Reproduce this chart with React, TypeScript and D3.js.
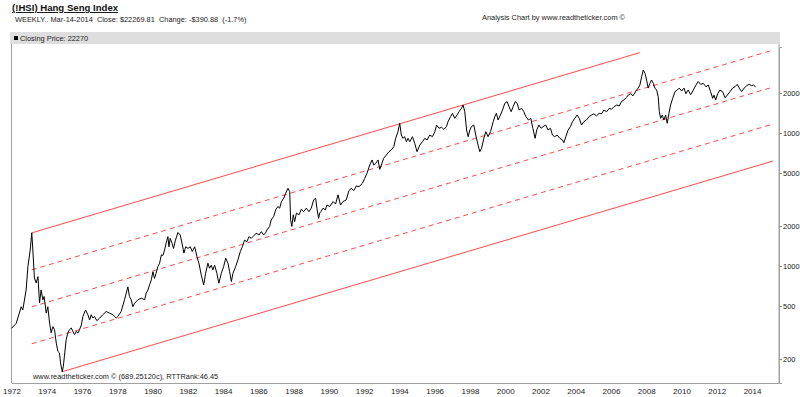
import { useEffect, useRef } from "react";
import * as d3 from "d3";

// weekly closes: [decimal year, close]
const closePoints: [number, number][] = [
  [1972.0, 340], [1972.27, 371], [1972.55, 494], [1972.64, 467], [1972.83, 660], [1972.93, 988],
  [1973.06, 1318], [1973.15, 1775], [1973.21, 1318], [1973.3, 812], [1973.4, 747], [1973.5, 832],
  [1973.59, 529], [1973.68, 660], [1973.78, 557], [1973.85, 590], [1973.97, 442], [1974.06, 494],
  [1974.16, 371], [1974.25, 315], [1974.35, 350], [1974.44, 332], [1974.54, 263], [1974.63, 228],
  [1974.72, 222], [1974.78, 187], [1974.88, 160], [1974.94, 176], [1975.0, 210], [1975.1, 279],
  [1975.19, 313], [1975.29, 332], [1975.39, 342], [1975.48, 322], [1975.58, 305], [1975.67, 322],
  [1975.77, 313], [1975.86, 332], [1975.96, 360], [1976.05, 417], [1976.2, 467], [1976.33, 430],
  [1976.43, 393], [1976.52, 430], [1976.62, 406], [1976.71, 417], [1976.84, 388], [1977.0, 406],
  [1977.18, 430], [1977.37, 455], [1977.56, 442], [1977.75, 430], [1977.94, 406], [1978.03, 417],
  [1978.22, 455], [1978.41, 557], [1978.6, 697], [1978.69, 590], [1978.79, 557], [1978.88, 494],
  [1978.98, 525], [1979.17, 557], [1979.36, 573], [1979.55, 557], [1979.64, 625], [1979.74, 660],
  [1979.83, 721], [1979.93, 787], [1980.02, 906], [1980.11, 807], [1980.2, 881], [1980.3, 988],
  [1980.4, 1050], [1980.5, 1213], [1980.59, 1200], [1980.68, 1318], [1980.78, 1500], [1980.87, 1663],
  [1980.93, 1395], [1981.0, 1613], [1981.11, 1477], [1981.19, 1356], [1981.3, 1566], [1981.44, 1786],
  [1981.57, 1712], [1981.69, 1440], [1981.78, 1250], [1981.88, 1395], [1982.01, 1356], [1982.14, 1395],
  [1982.25, 1286], [1982.39, 1395], [1982.52, 1174], [1982.63, 1050], [1982.76, 858], [1982.9, 721],
  [1983.01, 881], [1983.14, 1050], [1983.23, 962], [1983.33, 1014], [1983.42, 935], [1983.52, 1014],
  [1983.65, 881], [1983.76, 742], [1983.9, 881], [1984.03, 988], [1984.15, 1143], [1984.28, 1050],
  [1984.37, 906], [1984.47, 764], [1984.56, 881], [1984.71, 988], [1984.84, 1110], [1984.98, 1286],
  [1985.09, 1395], [1985.22, 1566], [1985.35, 1522], [1985.47, 1663], [1985.6, 1613], [1985.73, 1682],
  [1985.88, 1766], [1986.04, 1712], [1986.17, 1813], [1986.3, 1712], [1986.42, 1786], [1986.49, 1868],
  [1986.64, 1983], [1986.73, 2222], [1986.87, 2357], [1986.98, 2641], [1987.11, 2801], [1987.21, 2721],
  [1987.31, 3051], [1987.44, 3230], [1987.55, 3524], [1987.68, 3839], [1987.78, 3620], [1987.83, 2222],
  [1987.9, 1983], [1987.98, 2427], [1988.06, 2158], [1988.16, 2500], [1988.31, 2427], [1988.44, 2672],
  [1988.57, 2562], [1988.72, 2721], [1988.87, 2562], [1989.0, 2721], [1989.14, 3145], [1989.25, 3230],
  [1989.32, 2721], [1989.42, 2282], [1989.48, 2500], [1989.55, 2562], [1989.67, 2721], [1989.8, 2641],
  [1989.89, 2873], [1990.05, 2801], [1990.24, 3051], [1990.38, 2923], [1990.52, 3428], [1990.66, 2873],
  [1990.8, 3051], [1990.99, 3145], [1991.14, 3691], [1991.27, 3839], [1991.41, 3691], [1991.56, 4000],
  [1991.71, 3952], [1991.9, 4186], [1992.03, 4556], [1992.16, 4974], [1992.32, 5747], [1992.45, 6271],
  [1992.55, 5747], [1992.66, 5917], [1992.79, 6271], [1992.89, 5330], [1992.98, 5747], [1993.11, 6455],
  [1993.26, 6833], [1993.41, 7237], [1993.54, 7450], [1993.68, 7893], [1993.79, 9124], [1993.92, 10235],
  [1994.02, 11827], [1994.11, 9660], [1994.2, 9124], [1994.3, 9380], [1994.4, 8603], [1994.49, 9124],
  [1994.59, 8603], [1994.74, 9380], [1994.87, 8364], [1995.0, 7237], [1995.16, 8124], [1995.31, 8603],
  [1995.44, 9124], [1995.57, 8858], [1995.72, 9660], [1995.87, 9380], [1996.01, 10235], [1996.11, 11480],
  [1996.25, 10850], [1996.39, 11040], [1996.52, 10660], [1996.67, 11170], [1996.76, 12170], [1996.9, 13270],
  [1997.01, 14060], [1997.14, 12900], [1997.27, 13650], [1997.38, 14460], [1997.52, 15320], [1997.61, 16230],
  [1997.71, 14460], [1997.81, 10540], [1997.9, 9380], [1998.0, 10540], [1998.09, 11170], [1998.22, 11480],
  [1998.33, 9660], [1998.46, 8124], [1998.56, 7237], [1998.66, 7671], [1998.79, 9124], [1998.9, 10235],
  [1999.03, 9400], [1999.17, 10235], [1999.32, 12170], [1999.41, 13270], [1999.5, 14060], [1999.6, 12520],
  [1999.73, 13650], [1999.85, 14900], [1999.98, 16730], [2000.11, 17230], [2000.22, 15760], [2000.34, 14460],
  [2000.45, 15760], [2000.57, 17230], [2000.68, 16730], [2000.79, 14900], [2000.93, 15320], [2001.06, 14460],
  [2001.17, 13270], [2001.32, 12520], [2001.45, 12900], [2001.57, 10850], [2001.7, 9124], [2001.79, 10540],
  [2001.91, 11480], [2002.04, 10850], [2002.15, 11170], [2002.3, 11480], [2002.43, 10540], [2002.57, 10850],
  [2002.68, 9660], [2002.81, 9380], [2002.94, 9660], [2003.1, 9124], [2003.25, 8858], [2003.33, 8452],
  [2003.44, 9380], [2003.57, 10540], [2003.7, 11170], [2003.82, 12170], [2003.95, 12900], [2004.08, 13650],
  [2004.2, 12900], [2004.33, 11480], [2004.46, 12170], [2004.61, 12520], [2004.76, 13270], [2004.89, 13650],
  [2005.03, 13920], [2005.18, 13450], [2005.33, 14060], [2005.46, 13920], [2005.6, 14900], [2005.75, 14460],
  [2005.9, 15320], [2006.03, 15090], [2006.17, 15760], [2006.32, 16230], [2006.47, 15990], [2006.6, 17230],
  [2006.73, 17740], [2006.88, 18500], [2006.98, 19300], [2007.12, 19740], [2007.25, 19050], [2007.45, 21030],
  [2007.54, 21760], [2007.64, 22950], [2007.74, 26480], [2007.83, 29780], [2007.93, 28060], [2008.02, 25030],
  [2008.11, 21760], [2008.21, 23640], [2008.3, 25030], [2008.4, 23640], [2008.49, 21760], [2008.59, 21030],
  [2008.68, 18760], [2008.74, 14460], [2008.82, 12900], [2008.91, 13650], [2009.0, 12520], [2009.1, 13650],
  [2009.19, 11830], [2009.29, 14060], [2009.38, 16230], [2009.5, 18220], [2009.63, 20460], [2009.76, 21030],
  [2009.87, 21760], [2010.01, 20700], [2010.14, 21760], [2010.25, 19740], [2010.38, 21030], [2010.52, 19410],
  [2010.67, 21030], [2010.82, 22950], [2010.95, 24350], [2011.09, 23220], [2011.23, 23640], [2011.39, 22250],
  [2011.52, 22950], [2011.65, 20460], [2011.77, 18220], [2011.84, 19280], [2011.94, 17740], [2012.05, 19740],
  [2012.18, 21030], [2012.33, 20460], [2012.47, 18420], [2012.6, 19280], [2012.75, 20460], [2012.9, 21760],
  [2013.03, 22250], [2013.16, 23220], [2013.28, 21760], [2013.41, 20460], [2013.55, 21760], [2013.7, 22690],
  [2013.84, 23220], [2013.98, 22690], [2014.07, 22950], [2014.2, 22270],
];

// regression channel: anchored on the 1973 top, five parallel lines in log space
const channelAnchor: [number, number] = [1973.15, 1775];
const channelSlope = 0.0393; // decades per year
const channelStep = 0.278; // decades between lines
const channelLines = [
  { k: 0, from: 1973.15, to: 2007.64, dashed: false },
  { k: 1, from: 1973.15, to: 2015.2, dashed: true },
  { k: 2, from: 1973.15, to: 2015.2, dashed: true },
  { k: 3, from: 1973.15, to: 2015.2, dashed: true },
  { k: 4, from: 1974.89, to: 2015.2, dashed: false },
];

const yearTicks = d3.range(1972, 2015, 2);
const priceTicks = [200, 500, 1000, 2000, 5000, 10000, 20000];

const width = 800;
const height = 397;
const plotLeft = 11.5;
const plotRight = 779;
const plotTop = 47;
const plotBottom = 383;
const font = "'Liberation Sans', Arial, sans-serif";

export default function App() {
  const xRef = useRef<SVGGElement>(null);
  const yRef = useRef<SVGGElement>(null);

  const x = d3.scaleLinear().domain([1972, 2015.53]).range([plotLeft, plotRight]);
  const y = d3.scaleLog().domain([131.9, 44330]).range([plotBottom, plotTop]);

  const line = d3
    .line<[number, number]>()
    .x((d) => x(d[0]))
    .y((d) => y(d[1]));

  const channelValue = (t: number, k: number) =>
    Math.pow(10, Math.log10(channelAnchor[1]) + channelSlope * (t - channelAnchor[0]) - k * channelStep);

  useEffect(() => {
    const gx = d3.select(xRef.current);
    gx.selectAll("*").remove();
    gx.call(d3.axisBottom(x).tickValues(yearTicks).tickFormat(d3.format("d")).tickSize(0).tickPadding(5))
      .call((g) => g.select(".domain").attr("stroke", "#a0a0a0"))
      .call((g) =>
        g.selectAll(".tick text").attr("fill", "#222").style("font-size", "8px").style("font-family", font),
      );

    const gy = d3.select(yRef.current);
    gy.selectAll("*").remove();
    gy.call(d3.axisRight(y).tickValues(priceTicks).tickFormat(d3.format("d")).tickSize(3).tickPadding(1))
      .call((g) => g.select(".domain").attr("stroke", "#a0a0a0"))
      .call((g) => g.selectAll(".tick line").attr("stroke", "#888"))
      .call((g) =>
        g.selectAll(".tick text").attr("fill", "#222").style("font-size", "7.5px").style("font-family", font),
      );
  }, []);

  return (
    <svg
      width={width}
      height={height}
      style={{ position: "absolute", left: 0, top: 0, background: "#fff" }}
      fontFamily={font}
    >
      <text x={12} y={11} fontSize={9.6} fontWeight="bold" textDecoration="underline" fill="#111">
        (!HSI) Hang Seng Index
      </text>
      <text x={15} y={22} fontSize={7.4} fill="#222">
        WEEKLY.. Mar-14-2014{"\u00a0\u00a0"}Close: $22269.81{"\u00a0\u00a0"}Change: -$390.88{"\u00a0\u00a0"}(-1.7%)
      </text>
      <text x={482} y={20} fontSize={7.4} fill="#222">
        Analysis Chart by www.readtheticker.com ©
      </text>

      <rect x={10} y={32} width={770} height={12} fill="#dedede" />
      <rect x={14} y={36} width={4} height={4} fill="#000" />
      <text x={20} y={41} fontSize={7.4} fill="#222">
        Closing Price: 22270
      </text>
      <line x1={plotLeft} x2={plotLeft} y1={44} y2={plotBottom} stroke="#a0a0a0" />
      <line x1={plotRight} x2={plotRight} y1={44} y2={plotBottom} stroke="#a0a0a0" />

      <g ref={xRef} transform={`translate(0,${plotBottom})`} />
      <g ref={yRef} transform={`translate(${plotRight},0)`} />

      {channelLines.map((c) => (
        <line
          key={c.k}
          x1={x(c.from)}
          y1={y(channelValue(c.from, c.k))}
          x2={x(c.to)}
          y2={y(channelValue(c.to, c.k))}
          stroke="#ff4a4a"
          strokeWidth={1}
          strokeDasharray={c.dashed ? "5,4" : undefined}
        />
      ))}

      <path d={line(closePoints) ?? ""} fill="none" stroke="#000" strokeWidth={1} strokeLinejoin="round" />

      <text x={33} y={379} fontSize={7.4} fill="#222">
        www.readtheticker.com © (689.25120c), RTTRank:46.45
      </text>
    </svg>
  );
}
